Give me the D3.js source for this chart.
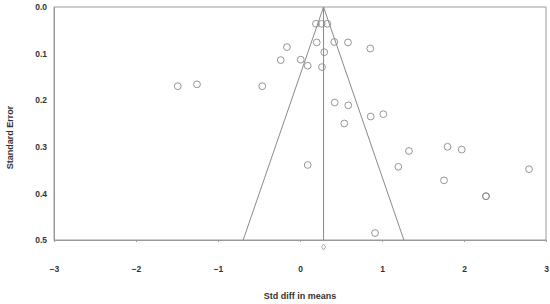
<!DOCTYPE html>
<html>
<head>
<meta charset="utf-8">
<script src="https://cdn.jsdelivr.net/npm/d3@7"></script>
<style>
  body { margin: 0; background: #fff; }
  text { font-family: "Liberation Sans", Arial, sans-serif; font-weight: bold; fill: #333; }
</style>
</head>
<body>
<svg id="funnel" width="550" height="304"></svg>
<script>
// Study effect sizes (std diff in means) and their standard errors
const effects = [0.195, 0.264, 0.333, 0.204, 0.418, 0.585, 0.857, -0.159, -0.235, 0.009,
                 0.094, 0.296, 0.268, -1.491, -1.256, -0.460, 0.423, 0.589, 0.540, 0.862,
                 1.016, 1.329, 1.199, 0.094, 1.799, 1.972, 2.793, 1.756, 2.268, 2.268, 0.915];
const stdErrors = [0.036, 0.036, 0.036, 0.076, 0.075, 0.076, 0.089, 0.086, 0.114, 0.113,
                   0.126, 0.097, 0.129, 0.170, 0.166, 0.170, 0.205, 0.211, 0.250, 0.235,
                   0.230, 0.309, 0.343, 0.339, 0.300, 0.306, 0.348, 0.372, 0.406, 0.406, 0.485];
const pooledMean = 0.287;
const xTicks = [-3, -2, -1, 0, 1, 2, 3];
const yTicks = [0, 0.1, 0.2, 0.3, 0.4, 0.5];

const margin = { top: 7, right: 4, bottom: 64, left: 54 };
const width = 550 - margin.left - margin.right;
const height = 304 - margin.top - margin.bottom;

const svg = d3.select('#funnel')
    .append('g')
    .attr('transform', `translate(${margin.left},${margin.top})`);

const x = d3.scaleLinear().domain([-3, 3]).range([0, width]);
const y = d3.scaleLinear().domain([0, 0.5]).range([0, height]);

const axisColor = '#9a9a9a';

// plot frame
svg.append('rect')
    .attr('width', width)
    .attr('height', height)
    .attr('fill', 'none')
    .attr('stroke', axisColor)
    .attr('stroke-width', 1);

// x axis
const xAxis = svg.append('g')
    .attr('transform', `translate(0,${height})`)
    .call(d3.axisBottom(x).tickValues(xTicks).tickSize(2).tickFormat(d3.format('d')));
xAxis.select('.domain').attr('stroke', axisColor);
xAxis.selectAll('line').attr('stroke', axisColor);
xAxis.selectAll('text')
    .attr('y', 26)
    .style('font-size', '8.5px')
    .style('font-family', '"Liberation Sans", Arial, sans-serif')
    .style('font-weight', 'bold')
    .attr('fill', '#333');

// y axis
const yAxis = svg.append('g')
    .call(d3.axisLeft(y).tickValues(yTicks).tickSize(0).tickFormat(d3.format('.1f')));
yAxis.select('.domain').attr('stroke', axisColor);
yAxis.selectAll('text')
    .attr('x', -7)
    .style('font-size', '8.5px')
    .style('font-family', '"Liberation Sans", Arial, sans-serif')
    .style('font-weight', 'bold')
    .attr('fill', '#333');

// funnel lines (95% limits)
const lineColor = '#8a8a8a';
svg.append('line')
    .attr('x1', x(pooledMean)).attr('y1', y(0))
    .attr('x2', x(pooledMean - 1.96 * 0.5)).attr('y2', y(0.5))
    .attr('stroke', lineColor);
svg.append('line')
    .attr('x1', x(pooledMean)).attr('y1', y(0))
    .attr('x2', x(pooledMean + 1.96 * 0.5)).attr('y2', y(0.5))
    .attr('stroke', lineColor);
svg.append('line')
    .attr('x1', x(pooledMean)).attr('y1', y(0))
    .attr('x2', x(pooledMean)).attr('y2', y(0.5))
    .attr('stroke', lineColor);

// studies
svg.selectAll('.study')
    .data(effects.map((e, i) => ({ e, se: stdErrors[i] })))
    .enter()
    .append('circle')
    .attr('class', 'study')
    .attr('cx', d => x(d.e))
    .attr('cy', d => y(d.se))
    .attr('r', 3.4)
    .attr('fill', 'none')
    .attr('stroke', '#8a8a8a')
    .attr('stroke-width', 0.9);

// pooled estimate diamond below axis
const dx = x(pooledMean), dy = height + 7;
svg.append('path')
    .attr('d', `M${dx},${dy - 3}L${dx + 2},${dy}L${dx},${dy + 3}L${dx - 2},${dy}Z`)
    .attr('fill', 'none')
    .attr('stroke', '#999')
    .attr('stroke-width', 0.8);

// axis titles
svg.append('text')
    .attr('x', x(0))
    .attr('y', height + 59)
    .attr('text-anchor', 'middle')
    .style('font-size', '9px')
    .text('Std diff in means');

svg.append('text')
    .attr('transform', `translate(${-margin.left + 13},${height / 2 + 14}) rotate(-90)`)
    .attr('text-anchor', 'middle')
    .style('font-size', '9px')
    .text('Standard Error');
</script>
</body>
</html>
